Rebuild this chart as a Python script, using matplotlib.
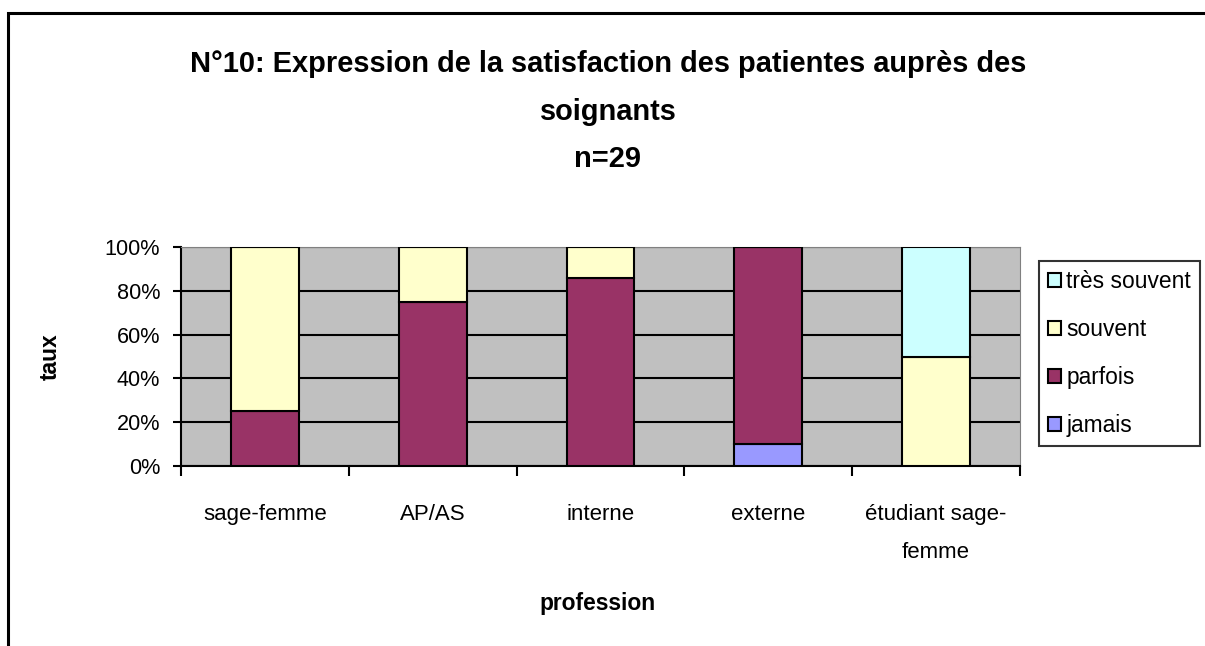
import matplotlib.pyplot as plt
import numpy as np
from matplotlib.patches import Rectangle
from matplotlib import font_manager

# Arial-like narrow font if installed, otherwise plain Liberation Sans
names = {f.name for f in font_manager.fontManager.ttflist}
narrow = 'Liberation Sans Narrow' in names
plt.rcParams['font.family'] = ['Liberation Sans Narrow' if narrow else 'Liberation Sans', 'DejaVu Sans']
k = 1.0 if narrow else 0.82  # shrink sizes if no narrow face

professions = ['sage-femme', 'AP/AS', 'interne', 'externe', 'étudiant sage-\nfemme']
jamais = [0, 0, 0, 10, 0]
parfois = [25, 75, 85.7, 90, 0]
souvent = [75, 25, 14.3, 0, 50]
tres_souvent = [0, 0, 0, 0, 50]

series = [('jamais', jamais, '#9999FF'),
          ('parfois', parfois, '#993366'),
          ('souvent', souvent, '#FFFFCC'),
          ('très souvent', tres_souvent, '#CCFFFF')]

W, H = 1205, 646
fig = plt.figure(figsize=(W/100, H/100), dpi=100)
ax = fig.add_axes([181/W, 1-466/H, (1020-181)/W, (466-247)/H])

x = np.arange(len(professions))
bottom = np.zeros(len(professions))
handles = []
for name, vals, col in series:
    vals = np.array(vals, dtype=float)
    b = ax.bar(x, vals, 0.405, bottom=bottom, color=col, edgecolor='black', linewidth=1.5, zorder=3, label=name)
    handles.append(b)
    bottom += vals

ax.set_facecolor('#C0C0C0')
ax.set_xlim(-0.5, len(professions) - 0.5)
ax.set_ylim(0, 100)
ax.set_yticks(range(0, 101, 20))
ax.set_yticklabels([f'{v}%' for v in range(0, 101, 20)], fontsize=19*k)
ax.yaxis.grid(True, color='black', linewidth=1.5, zorder=1)
ax.set_axisbelow(True)

ax.set_xticks(np.arange(-0.5, len(professions), 1.0))
ax.set_xticklabels([])
ax.tick_params(axis='x', length=7, width=1.5, direction='out')
ax.tick_params(axis='y', length=6, width=1.5, direction='out', pad=9)

# category labels, one text per line
tr = ax.get_xaxis_transform()
for i, lab in enumerate(professions):
    for j, line in enumerate(lab.split('\n')):
        ax.annotate(line, (i, 0), xycoords=tr, xytext=(0, -(54 + 38*j)*0.72), textcoords='offset points',
                    ha='center', va='baseline', fontsize=19.5*k, annotation_clip=False)

for s in ['top', 'right']:
    ax.spines[s].set_color('#808080')
for s in ['left', 'bottom']:
    ax.spines[s].set_color('black')
    ax.spines[s].set_linewidth(1.5)

fig.text(598/W, 1-610/H, 'profession', ha='center', va='baseline', fontsize=20*k, fontweight='bold')
fig.text(50/W, 1-357/H, 'taux', ha='center', va='center', rotation=90, fontsize=20*k, fontweight='bold')

title_lines = ['N°10: Expression de la satisfaction des patientes auprès des', 'soignants', 'n=29']
for line, yb in zip(title_lines, [72, 120, 167]):
    fig.text(608/W, 1-yb/H, line, ha='center', va='baseline', fontsize=25.5*k, fontweight='bold')

leg = fig.legend(handles[::-1], [s[0] for s in series][::-1], loc='upper left',
                 bbox_to_anchor=(1039/W, 1-261/H), fontsize=20*k, frameon=True, fancybox=False,
                 edgecolor='black', handlelength=0.55, handleheight=0.55, handletextpad=0.25,
                 labelspacing=1.1, borderpad=0.4, borderaxespad=0)
leg.get_frame().set_linewidth(1.5)

# outer chart border (runs off the right and bottom edges)
fig.patches.append(Rectangle((8/W, -0.1), 1.2, 1-13/H + 0.1, transform=fig.transFigure,
                             fill=False, edgecolor='black', linewidth=2.2))

fig.savefig('out.png', dpi=100, facecolor='white')
